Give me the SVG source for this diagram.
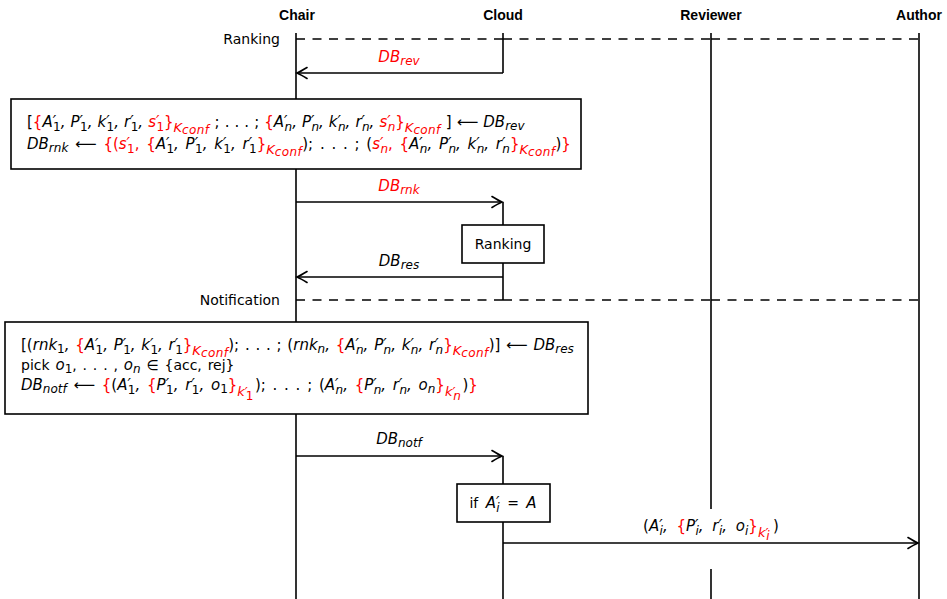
<svg xmlns="http://www.w3.org/2000/svg" width="947" height="599" viewBox="0 0 947 599">
<style>
text{font-family:"DejaVu Sans","Liberation Sans",sans-serif;font-size:14px;fill:#000}
.h{font-family:"Liberation Sans","DejaVu Sans",sans-serif;font-weight:bold}
.m{font-style:italic;font-size:15px}
.w{word-spacing:1px}
.u{font-style:normal}
.r{fill:#f00}
.s{font-size:12px}
.k{font-size:13px}
.c{font-size:12px;letter-spacing:0.4px}
.ll{stroke:#000;stroke-width:1.6;fill:none}
.dash{stroke:#000;stroke-width:1.6;fill:none;stroke-dasharray:9 7.5}
.arr{stroke:#000;stroke-width:1.6;fill:none;marker-end:url(#ah)}
.box{fill:#fff;stroke:#000;stroke-width:1.6}
</style>
<defs>
<marker id="ah" markerUnits="userSpaceOnUse" viewBox="-11 -7 13 14" refX="0" refY="0" markerWidth="13" markerHeight="14" orient="auto">
<path d="M-10,-5.5 Q-3.5,-1.5 0,0 Q-3.5,1.5 -10,5.5" fill="none" stroke="#000" stroke-width="1.6" stroke-linecap="round"/>
</marker>
</defs>

<g id="headers">
<text class="h" x="297" y="20" text-anchor="middle">Chair</text>
<text class="h" x="503" y="20" text-anchor="middle">Cloud</text>
<text class="h" x="711" y="20" text-anchor="middle">Reviewer</text>
<text class="h" x="919" y="20" text-anchor="middle">Author</text>
</g>

<g id="lifelines">
<line class="ll" x1="296" y1="33" x2="296" y2="599"/>
<line class="ll" x1="503" y1="33" x2="503" y2="73"/>
<line class="ll" x1="503" y1="202" x2="503" y2="300"/>
<line class="ll" x1="503" y1="456" x2="503" y2="599"/>
<line class="ll" x1="711" y1="33" x2="711" y2="509"/>
<line class="ll" x1="711" y1="569" x2="711" y2="599"/>
<line class="ll" x1="919" y1="33" x2="919" y2="599"/>
</g>

<g id="phases">
<text x="280" y="44" text-anchor="end">Ranking</text>
<line class="dash" x1="296" y1="39" x2="503" y2="39"/>
<line class="dash" x1="503" y1="39" x2="711" y2="39"/>
<line class="dash" x1="711" y1="39" x2="919" y2="39"/>
<text x="280" y="305" text-anchor="end">Notification</text>
<line class="dash" x1="296" y1="300" x2="503" y2="300"/>
<line class="dash" x1="503" y1="300" x2="711" y2="300"/>
<line class="dash" x1="711" y1="300" x2="919" y2="300"/>
</g>

<g id="connectors">
<line class="arr" x1="503" y1="73" x2="297" y2="73"/>
<text class="m r" x="399" y="62" text-anchor="middle">DB<tspan class="s" dy="3">rev</tspan></text>
<line class="arr" x1="296" y1="202" x2="502" y2="202"/>
<text class="m r" x="399" y="191" text-anchor="middle">DB<tspan class="s" dy="3">rnk</tspan></text>
<line class="arr" x1="503" y1="277" x2="297" y2="277"/>
<text class="m" x="399" y="266" text-anchor="middle">DB<tspan class="s" dy="3">res</tspan></text>
<line class="arr" x1="296" y1="456" x2="502" y2="456"/>
<text class="m" x="399" y="444" text-anchor="middle">DB<tspan class="s" dy="3">notf</tspan></text>
<line class="arr" x1="503" y1="543" x2="918" y2="543"/>
<text class="m" x="711" y="531" text-anchor="middle" word-spacing="4"><tspan class="u">(</tspan>A′<tspan class="s" dx="-3" dy="4">i</tspan><tspan dy="-4">, </tspan><tspan class="u r">{</tspan>P′<tspan class="s" dx="-3" dy="4">i</tspan><tspan dy="-4">, r′</tspan><tspan class="s" dx="-3" dy="4">i</tspan><tspan dy="-4">, o</tspan><tspan class="s" dy="4">i</tspan><tspan class="u r" dy="-4">}</tspan><tspan class="k r" dy="6">k′</tspan><tspan class="c r" dx="-2" dy="3">i</tspan><tspan class="u" dx="3" dy="-9">)</tspan></text>
</g>

<g id="box-ranking-db">
<rect class="box" x="11" y="99" width="570" height="70"/>
<text class="m" x="27" y="127" word-spacing="0.3"><tspan class="u">[</tspan><tspan class="u r">{</tspan>A′<tspan class="s u" dx="-3" dy="4">1</tspan><tspan dy="-4">, P′</tspan><tspan class="s u" dx="-3" dy="4">1</tspan><tspan dy="-4">, k′</tspan><tspan class="s u" dx="-3" dy="4">1</tspan><tspan dy="-4">, r′</tspan><tspan class="s u" dx="-3" dy="4">1</tspan><tspan dy="-4">, </tspan><tspan class="r">s′</tspan><tspan class="s u r" dx="-3" dy="4">1</tspan><tspan class="u r" dy="-4">}</tspan><tspan class="k r" dy="5">K</tspan><tspan class="c r" dy="2">conf</tspan><tspan class="u" dy="-7"> ; . . . ; </tspan><tspan class="u r">{</tspan>A′<tspan class="s" dx="-3" dy="4">n</tspan><tspan dy="-4">, P′</tspan><tspan class="s" dx="-3" dy="4">n</tspan><tspan dy="-4">, k′</tspan><tspan class="s" dx="-3" dy="4">n</tspan><tspan dy="-4">, r′</tspan><tspan class="s" dx="-3" dy="4">n</tspan><tspan dy="-4">, </tspan><tspan class="r">s′</tspan><tspan class="s r" dx="-3" dy="4">n</tspan><tspan class="u r" dy="-4">}</tspan><tspan class="k r" dy="5">K</tspan><tspan class="c r" dy="2">conf</tspan><tspan class="u" dy="-7"> ] ⟵ </tspan>DB<tspan class="s" dy="3">rev</tspan></text>
<text class="m" x="27" y="149" word-spacing="2">DB<tspan class="s" dy="3">rnk</tspan><tspan class="u" dy="-3"> ⟵ </tspan><tspan class="u r">{(</tspan><tspan class="r">s′</tspan><tspan class="s u r" dx="-3" dy="4">1</tspan><tspan class="u r" dy="-4">, {</tspan>A′<tspan class="s u" dx="-3" dy="4">1</tspan><tspan dy="-4">, P′</tspan><tspan class="s u" dx="-3" dy="4">1</tspan><tspan dy="-4">, k′</tspan><tspan class="s u" dx="-3" dy="4">1</tspan><tspan dy="-4">, r′</tspan><tspan class="s u" dx="-3" dy="4">1</tspan><tspan class="u r" dy="-4">}</tspan><tspan class="k r" dy="5">K</tspan><tspan class="c r" dy="2">conf</tspan><tspan class="u" dy="-7">); . . . ; (</tspan><tspan class="r">s′</tspan><tspan class="s r" dx="-3" dy="4">n</tspan><tspan class="u r" dy="-4">, {</tspan>A′<tspan class="s" dx="-3" dy="4">n</tspan><tspan dy="-4">, P′</tspan><tspan class="s" dx="-3" dy="4">n</tspan><tspan dy="-4">, k′</tspan><tspan class="s" dx="-3" dy="4">n</tspan><tspan dy="-4">, r′</tspan><tspan class="s" dx="-3" dy="4">n</tspan><tspan class="u r" dy="-4">}</tspan><tspan class="k r" dy="5">K</tspan><tspan class="c r" dy="2">conf</tspan><tspan class="u" dy="-7">)</tspan><tspan class="u r">}</tspan></text>
</g>

<g id="box-ranking">
<rect class="box" x="462" y="225" width="82" height="38"/>
<text x="503" y="249" text-anchor="middle">Ranking</text>
</g>

<g id="box-notification-db">
<rect class="box" x="5" y="322" width="583" height="92"/>
<text class="m w" x="21" y="350"><tspan class="u">[(</tspan>rnk<tspan class="s u" dy="3">1</tspan><tspan dy="-3">, </tspan><tspan class="u r">{</tspan>A′<tspan class="s u" dx="-3" dy="4">1</tspan><tspan dy="-4">, P′</tspan><tspan class="s u" dx="-3" dy="4">1</tspan><tspan dy="-4">, k′</tspan><tspan class="s u" dx="-3" dy="4">1</tspan><tspan dy="-4">, r′</tspan><tspan class="s u" dx="-3" dy="4">1</tspan><tspan class="u r" dy="-4">}</tspan><tspan class="k r" dy="5">K</tspan><tspan class="c r" dy="2">conf</tspan><tspan class="u" dy="-7">); . . . ; (</tspan>rnk<tspan class="s" dy="3">n</tspan><tspan dy="-3">, </tspan><tspan class="u r">{</tspan>A′<tspan class="s" dx="-3" dy="4">n</tspan><tspan dy="-4">, P′</tspan><tspan class="s" dx="-3" dy="4">n</tspan><tspan dy="-4">, k′</tspan><tspan class="s" dx="-3" dy="4">n</tspan><tspan dy="-4">, r′</tspan><tspan class="s" dx="-3" dy="4">n</tspan><tspan class="u r" dy="-4">}</tspan><tspan class="k r" dy="5">K</tspan><tspan class="c r" dy="2">conf</tspan><tspan class="u" dy="-7">)] ⟵ </tspan>DB<tspan class="s" dy="3">res</tspan></text>
<text x="21" y="370" word-spacing="1.4">pick <tspan class="m">o</tspan><tspan class="s" dy="3">1</tspan><tspan dy="-3">, . . . , </tspan><tspan class="m">o</tspan><tspan class="s m" dy="3">n</tspan><tspan dy="-3"> ∈ {acc, rej}</tspan></text>
<text class="m" x="21" y="390" word-spacing="2">DB<tspan class="s" dy="3">notf</tspan><tspan class="u" dy="-3"> ⟵ </tspan><tspan class="u r">{</tspan><tspan class="u">(</tspan>A′<tspan class="s u" dx="-3" dy="4">1</tspan><tspan dy="-4">, </tspan><tspan class="u r">{</tspan>P′<tspan class="s u" dx="-3" dy="4">1</tspan><tspan dy="-4">, r′</tspan><tspan class="s u" dx="-3" dy="4">1</tspan><tspan dy="-4">, o</tspan><tspan class="s u" dy="3">1</tspan><tspan class="u r" dy="-3">}</tspan><tspan class="k r" dy="6">k′</tspan><tspan class="c u r" dx="-2" dy="4">1</tspan><tspan class="u" dx="1" dy="-10">); . . . ; (</tspan>A′<tspan class="s" dx="-3" dy="4">n</tspan><tspan dy="-4">, </tspan><tspan class="u r">{</tspan>P′<tspan class="s" dx="-3" dy="4">n</tspan><tspan dy="-4">, r′</tspan><tspan class="s" dx="-3" dy="4">n</tspan><tspan dy="-4">, o</tspan><tspan class="s" dy="3">n</tspan><tspan class="u r" dy="-3">}</tspan><tspan class="k r" dy="6">k′</tspan><tspan class="c r" dx="-2" dy="4">n</tspan><tspan class="u" dx="1" dy="-10">)</tspan><tspan class="u r">}</tspan></text>
</g>

<g id="box-if">
<rect class="box" x="457" y="484" width="93" height="38"/>
<text x="503" y="508" text-anchor="middle" word-spacing="3">if <tspan class="m">A′</tspan><tspan class="s m" dx="-3" dy="4">i</tspan><tspan dy="-4"> = </tspan><tspan class="m">A</tspan></text>
</g>
</svg>
